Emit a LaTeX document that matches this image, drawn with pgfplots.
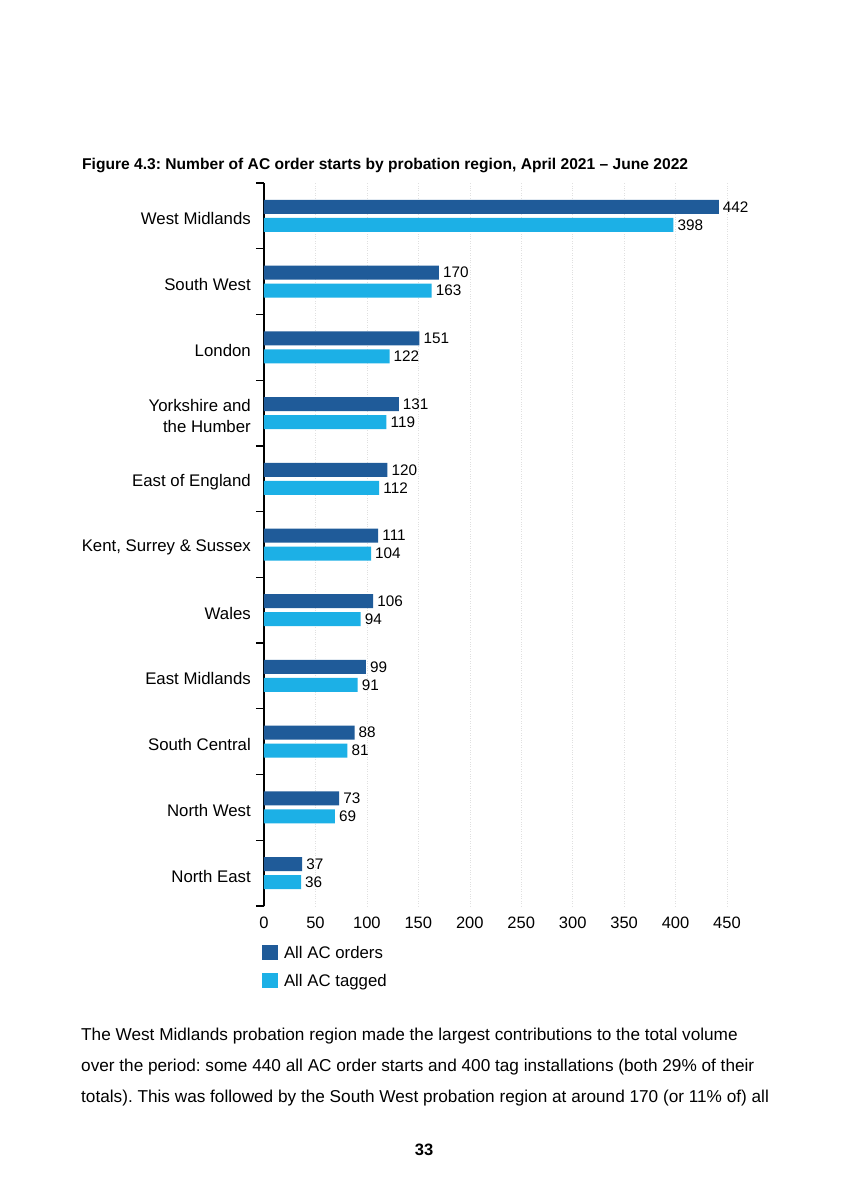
\documentclass[border=0pt]{standalone}
\usepackage{fontspec}
\setmainfont{Liberation Sans}
\usepackage{pgfplots}
\pgfplotsset{compat=1.18}

\definecolor{acorders}{RGB}{31,91,153}
\definecolor{actagged}{RGB}{28,176,230}

\begin{document}
\frenchspacing
\begin{tikzpicture}[x=1pt,y=1pt]
% page
\path[fill=white] (0,0) rectangle (849,-1200);

% figure caption
\node[anchor=base west, inner sep=0pt, font=\fontsize{15.6}{18}\selectfont\bfseries]
  at (82,-169) {Figure 4.3: Number of AC order starts by probation region, April 2021 -- June 2022};

% regions are placed from the bottom: North East = 0, ..., West Midlands = 10
\begin{axis}[
  at={(264pt,-906pt)}, anchor=south west,
  scale only axis, width=463pt, height=723pt,
  xmin=0, xmax=450, ymin=-0.5, ymax=10.5,
  axis x line*=bottom, axis y line*=left,
  x axis line style={draw=none},
  y axis line style={line width=1.3pt, black},
  /pgf/number format/assume math mode=true,
  xtick={0,50,...,450}, xtick style={draw=none},
  xmajorgrids, major grid style={dotted, line width=0.5pt, black!12},
  ytick={0,...,10},
  yticklabels={North East, North West, South Central, East Midlands, Wales,
    {Kent, Surrey \& Sussex}, East of England, {Yorkshire and\\the Humber},
    London, South West, West Midlands},
  minor ytick={-0.5,0.5,...,10.5},
  major y tick style={draw=none},
  tick align=outside, major tick length=0pt, minor tick length=8pt,
  minor y tick style={line width=1.3pt, black},
  yticklabel style={font=\fontsize{16.8}{21}\selectfont, align=right,
    inner sep=0pt, xshift=-13pt, yshift=-3pt},
  xticklabel style={font=\fontsize{16.5}{18}\selectfont, inner sep=0pt, yshift=-11pt},
  clip=false,
  legend style={at={(-0.0043,-0.054)}, anchor=north west, draw=none, fill=none,
    inner sep=0pt, outer sep=0pt, row sep=13pt, column sep=6pt,
    font=\fontsize{16.8}{18}\selectfont, nodes={inner sep=0pt}},
  legend cell align=left,
  legend image code/.code={\fill[#1] (0pt,-7pt) rectangle (16pt,8pt);},
  nodes near coords,
  point meta=x,
]
\addplot[xbar, bar width=14pt, bar shift=9pt, fill=acorders, draw=none,
  nodes near coords style={font=\fontsize{15.3}{18}\selectfont, anchor=west,
    inner sep=0pt, xshift=4pt, yshift=9pt, black}]
  coordinates {(37,0) (73,1) (88,2) (99,3) (106,4) (111,5)
               (120,6) (131,7) (151,8) (170,9) (442,10)};
\addlegendentry{All AC orders}
\addplot[xbar, bar width=14pt, bar shift=-9pt, fill=actagged, draw=none,
  nodes near coords style={font=\fontsize{15.3}{18}\selectfont, anchor=west,
    inner sep=0pt, xshift=4pt, yshift=-9pt, black}]
  coordinates {(36,0) (69,1) (81,2) (91,3) (94,4) (104,5)
               (112,6) (119,7) (122,8) (163,9) (398,10)};
\addlegendentry{All AC tagged}
\end{axis}

% running text below the figure
\begin{scope}[every node/.style={anchor=base west, inner sep=0pt,
    font=\fontsize{17.2}{20}\selectfont}]
\node at (81,-1040) {The West Midlands probation region made the largest contributions to the total volume};
\node at (81,-1071) {over the period: some 440 all AC order starts and 400 tag installations (both 29\% of their};
\node at (81,-1102) {totals). This was followed by the South West probation region at around 170 (or 11\% of) all};
\end{scope}

% page number
\node[inner sep=0pt, font=\fontsize{16.5}{18}\selectfont\bfseries] at (424,-1150) {33};
\end{tikzpicture}
\end{document}
